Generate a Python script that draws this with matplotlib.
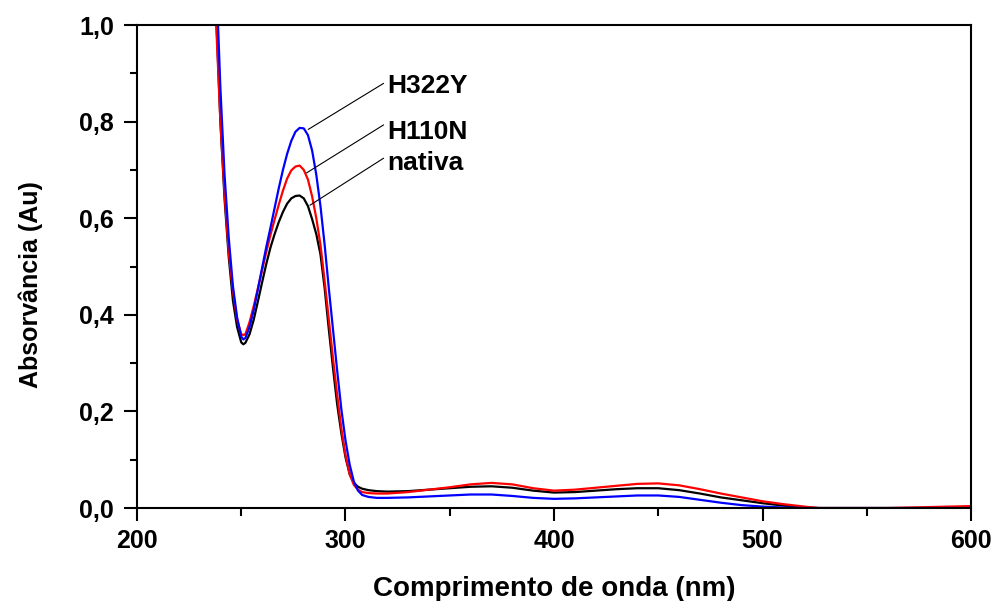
import matplotlib

matplotlib.use("Agg")
from matplotlib import pyplot as plt
from matplotlib.ticker import MultipleLocator, FuncFormatter

# wavelength grid (nm)
wl = [236, 238, 240, 242, 244, 246, 248, 250, 251, 252, 254, 256, 258, 260,
      262, 264, 266, 268, 270, 272, 274, 276, 278, 280, 282, 284, 286, 288,
      290, 292, 294, 296, 298, 300, 302, 304, 306, 308, 311, 315, 320, 330,
      340, 350, 360, 370, 380, 390, 400, 410, 420, 430, 440, 450, 460, 470,
      480, 490, 500, 510, 520, 527, 560, 580, 600]

nativa = [1.30, 1.02, 0.80, 0.64, 0.52, 0.43, 0.375, 0.343, 0.339, 0.342,
          0.36, 0.39, 0.428, 0.467, 0.505, 0.539, 0.567, 0.592, 0.613, 0.63,
          0.641, 0.646, 0.647, 0.641, 0.625, 0.598, 0.567, 0.525, 0.455, 0.37,
          0.29, 0.215, 0.155, 0.105, 0.07, 0.052, 0.044, 0.040, 0.037, 0.035,
          0.034, 0.035, 0.038, 0.041, 0.044, 0.045, 0.042, 0.036, 0.032,
          0.033, 0.036, 0.039, 0.041, 0.041, 0.037, 0.030, 0.022, 0.016,
          0.010, 0.005, 0.001, 0.0, 0.0, 0.0, 0.001]

h110n = [1.25, 1.00, 0.80, 0.65, 0.53, 0.45, 0.39, 0.36, 0.358, 0.36,
         0.385, 0.418, 0.455, 0.492, 0.53, 0.565, 0.597, 0.628, 0.657, 0.682,
         0.699, 0.707, 0.709, 0.70, 0.68, 0.645, 0.60, 0.545, 0.47, 0.39,
         0.31, 0.235, 0.165, 0.11, 0.07, 0.048, 0.038, 0.033, 0.031, 0.030,
         0.030, 0.033, 0.038, 0.043, 0.049, 0.052, 0.049, 0.041, 0.036,
         0.038, 0.042, 0.046, 0.050, 0.051, 0.047, 0.039, 0.030, 0.022,
         0.014, 0.008, 0.003, 0.0, 0.0, 0.002, 0.004]

h322y = [1.40, 1.10, 0.87, 0.69, 0.56, 0.46, 0.395, 0.355, 0.349, 0.352,
         0.375, 0.41, 0.453, 0.497, 0.54, 0.58, 0.621, 0.662, 0.70, 0.733,
         0.76, 0.779, 0.787, 0.786, 0.772, 0.74, 0.69, 0.625, 0.545, 0.455,
         0.37, 0.285, 0.205, 0.14, 0.09, 0.055, 0.036, 0.027, 0.023, 0.021,
         0.021, 0.022, 0.024, 0.026, 0.028, 0.028, 0.025, 0.021, 0.019,
         0.020, 0.022, 0.024, 0.026, 0.026, 0.023, 0.017, 0.011, 0.006,
         0.003, 0.001, 0.0, 0.0, 0.0, 0.0, 0.0]

series_names = ["nativa", "H110N", "H322Y"]
series_values = [nativa, h110n, h322y]
series_colors = ["black", "red", "blue"]

# leader line: point on curve -> end near label (data coords), label baseline
label_curve_pts = [(283.0, 0.627), (281.4, 0.694), (282.2, 0.784)]
label_line_ends = [(318.2, 0.724), (318.2, 0.793), (318.2, 0.879)]
label_text_pts = [(319.8, 0.700), (319.8, 0.765), (319.8, 0.859)]

plt.rcParams["font.family"] = ["Liberation Sans", "DejaVu Sans"]
plt.rcParams["font.weight"] = "bold"

fig = plt.figure(figsize=(9.94, 6.01), dpi=100)
ax = fig.add_axes([0.1378, 0.1547, 0.8391, 0.8037])

for name, vals, color in zip(series_names, series_values, series_colors):
    ax.plot(wl, vals, color=color, lw=1.6, label=name)

for name, p0, p1, pt in zip(series_names, label_curve_pts, label_line_ends, label_text_pts):
    ax.plot([p0[0], p1[0]], [p0[1], p1[1]], color="black", lw=0.8)
    ax.text(pt[0], pt[1], name, fontsize=19, fontweight="bold",
            ha="left", va="baseline")

ax.set_xlim(200, 600)
ax.set_ylim(0.0, 1.0)
ax.xaxis.set_major_locator(MultipleLocator(100))
ax.xaxis.set_minor_locator(MultipleLocator(50))
ax.yaxis.set_major_locator(MultipleLocator(0.2))
ax.yaxis.set_minor_locator(MultipleLocator(0.1))
ax.yaxis.set_major_formatter(FuncFormatter(lambda v, _: f"{v:.1f}".replace(".", ",")))

ax.tick_params(which="both", direction="out", top=False, right=False, width=1.5)
ax.tick_params(which="major", length=9.4)
ax.tick_params(which="minor", length=5.4)
ax.tick_params(axis="x", which="major", pad=5.8, labelsize=18)
ax.tick_params(axis="y", which="major", pad=7, labelsize=18)
for sp in ax.spines.values():
    sp.set_linewidth(1.5)

ax.set_xlabel("Comprimento de onda (nm)", fontsize=20, fontweight="bold")
ax.set_ylabel("Absorvância (Au)", fontsize=18, fontweight="bold")
ax.xaxis.set_label_coords(0.5, -0.141)
ax.yaxis.set_label_coords(-0.113, 0.462)

fig.savefig("out.png", dpi=100)
plt.close(fig)
